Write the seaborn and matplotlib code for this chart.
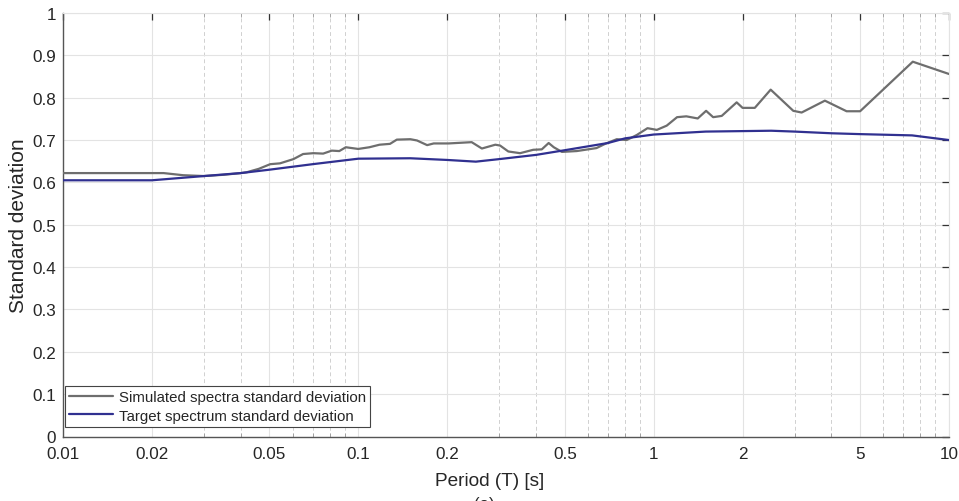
import numpy as np
import pandas as pd
import matplotlib
matplotlib.use("Agg")
import matplotlib.pyplot as plt
import matplotlib.ticker as mticker
import seaborn as sns

# Simulated spectra standard deviation (gray)
sim_T = [0.01, 0.0219, 0.0255, 0.030, 0.035, 0.040, 0.0419, 0.046, 0.0503, 0.0543, 0.0603,
         0.065, 0.0704, 0.076, 0.0813, 0.0862, 0.0907, 0.0999, 0.109, 0.118, 0.128,
         0.135, 0.150, 0.158, 0.171, 0.180, 0.202, 0.242, 0.262, 0.291, 0.302, 0.322,
         0.353, 0.391, 0.418, 0.441, 0.459, 0.489, 0.549, 0.64, 0.685, 0.75, 0.81,
         0.877, 0.953, 1.025, 1.107, 1.20, 1.29, 1.41, 1.505, 1.59, 1.70, 1.91, 2.0,
         2.20, 2.49, 2.97, 3.17, 3.80, 4.5, 5.0, 7.54, 10.0]
sim_sd = [0.622, 0.622, 0.617, 0.615, 0.618, 0.622, 0.624, 0.632, 0.643, 0.645, 0.655,
          0.667, 0.669, 0.668, 0.675, 0.674, 0.683, 0.679, 0.683, 0.689, 0.691,
          0.701, 0.702, 0.699, 0.688, 0.692, 0.692, 0.695, 0.680, 0.689, 0.687, 0.673,
          0.669, 0.677, 0.678, 0.693, 0.683, 0.672, 0.674, 0.681, 0.691, 0.702, 0.700,
          0.712, 0.728, 0.724, 0.734, 0.754, 0.756, 0.751, 0.769, 0.754, 0.757, 0.789, 0.776,
          0.776, 0.819, 0.769, 0.765, 0.793, 0.768, 0.768, 0.885, 0.856]

# Target spectrum standard deviation (blue)
tgt_T = [0.01, 0.02, 0.03, 0.04, 0.05, 0.07, 0.1, 0.15, 0.2, 0.25, 0.3, 0.4, 0.5, 0.7,
         0.8, 1.0, 1.5, 2.5, 3.0, 4.0, 5.0, 7.5, 10.0]
tgt_sd = [0.605, 0.605, 0.615, 0.622, 0.630, 0.643, 0.656, 0.657, 0.653, 0.649, 0.655,
          0.665, 0.676, 0.693, 0.704, 0.713, 0.720, 0.722, 0.720, 0.716, 0.714, 0.711, 0.700]

series_names = ["Simulated spectra standard deviation", "Target spectrum standard deviation"]
x_ticks = [0.01, 0.02, 0.05, 0.1, 0.2, 0.5, 1, 2, 5, 10]
x_ticklabels = ["0.01", "0.02", "0.05", "0.1", "0.2", "0.5", "1", "2", "5", "10"]
y_ticks = [0, 0.1, 0.2, 0.3, 0.4, 0.5, 0.6, 0.7, 0.8, 0.9, 1]
y_ticklabels = ["0", "0.1", "0.2", "0.3", "0.4", "0.5", "0.6", "0.7", "0.8", "0.9", "1"]

df = pd.concat([
    pd.DataFrame({"T": sim_T, "sd": sim_sd, "series": series_names[0]}),
    pd.DataFrame({"T": tgt_T, "sd": tgt_sd, "series": series_names[1]}),
])

sns.set_style("white")
plt.rcParams["font.family"] = ["Liberation Sans", "DejaVu Sans"]

fig = plt.figure(figsize=(9.59, 5.02), dpi=100)
ax = fig.add_axes([63/959, 1-437.5/502, 886/959, 423.5/502])

palette = {series_names[0]: "#6e6e6e", series_names[1]: "#303090"}
sns.lineplot(data=df, x="T", y="sd", hue="series", palette=palette, ax=ax,
             linewidth=1.6, sort=False, estimator=None, legend=True, zorder=3)

ax.set_xscale("log")
ax.set_xlim(0.01, 10)
ax.set_ylim(0, 1)
ax.set_xticks(x_ticks)
ax.set_xticklabels(x_ticklabels)
ax.xaxis.set_minor_locator(mticker.LogLocator(base=10, subs=np.arange(2, 10), numticks=20))
ax.xaxis.set_minor_formatter(mticker.NullFormatter())
ax.set_yticks(y_ticks)
ax.set_yticklabels(y_ticklabels)

ax.grid(True, which="major", axis="both", color="#e3e3e3", linewidth=0.8, linestyle="-", zorder=0)
ax.grid(True, which="minor", axis="x", color="#d0d0d0", linewidth=0.7, linestyle=(0, (4, 3)), zorder=0)
ax.set_axisbelow(True)

ax.tick_params(axis="both", which="major", direction="in", length=5, width=0.9,
               color="#333333", labelsize=12.3, labelcolor="#262626",
               top=True, right=True)
ax.tick_params(axis="x", which="major", pad=7)
ax.tick_params(axis="y", which="major", pad=5)
ax.tick_params(axis="x", which="minor", direction="in", length=3, width=0.6,
               color="#999999", top=True, bottom=True)

for s in ["left", "bottom"]:
    ax.spines[s].set_color("#555555")
    ax.spines[s].set_linewidth(1.0)
for s in ["top", "right"]:
    ax.spines[s].set_color("#e3e3e3")
    ax.spines[s].set_linewidth(0.8)

ax.set_xlabel("Period (T) [s]", fontsize=13.7, color="#262626")
ax.xaxis.set_label_coords(0.482, -0.103, transform=ax.transAxes)
ax.xaxis.label.set_va("center")
ax.set_ylabel("Standard deviation", fontsize=15, color="#262626", labelpad=3)

leg = ax.legend(loc="lower left", bbox_to_anchor=(0.002, 0.022), borderaxespad=0,
                fontsize=10.8, frameon=True, fancybox=False, handlelength=2.9,
                handletextpad=0.4, borderpad=0.3, labelspacing=0.3)
leg.get_frame().set_edgecolor("#444444")
leg.get_frame().set_linewidth(0.8)
leg.get_frame().set_alpha(1)
leg.set_title(None)

fig.text(484/959, 1-497/502, "(a)", ha="center", va="top", fontsize=12, color="#262626")

fig.savefig("out.png", dpi=100)
